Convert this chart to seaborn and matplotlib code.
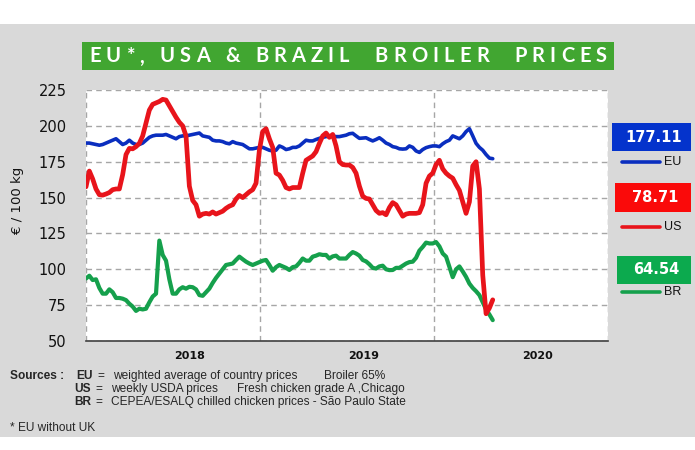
import numpy as np
import pandas as pd
import matplotlib
matplotlib.use("Agg")
import matplotlib.pyplot as plt
import seaborn as sns
from matplotlib import font_manager as fm
from matplotlib.patches import Rectangle
from matplotlib.lines import Line2D

# ---------------- data (weekly, from first week of 2018) ----------------
start_date = "2018-01-01"
eu = [188, 188, 187.5, 187, 186.5, 187, 188, 189, 190, 191,
      189, 187, 188, 190, 188, 187, 187, 188, 190, 192,
      193, 193.5, 193.5, 193.5, 194, 193, 192, 191, 192.5, 193,
      193, 193.5,
      194, 194.5, 195, 193, 192.5, 192, 190, 189.5, 189.5, 189,
      188, 187.5, 189, 188, 187.5, 187, 185.5, 184, 184, 184.5,
      185, 185, 184, 183, 182.5, 183, 186, 185, 183.5, 184,
      185,
      185, 186, 188, 190, 189.5, 189.5, 190.5, 191.3, 192, 192.5,
      193, 193, 192.5, 192.5, 193, 193.5, 194.5, 194.8, 193, 191.3,
      191.5, 191.7, 190.5, 189.5, 190.5, 191.7, 190, 188, 187, 185.5,
      185,
      184, 183.8, 184, 186, 185, 182.5, 181.5, 183.5, 184.8, 185.5,
      186, 186, 185.5, 187.5, 189, 190, 193, 192, 191, 193,
      196, 198, 193, 187.8, 185, 183, 180, 177.5, 177.11]
us = [157.5, 168.5, 163, 156, 152, 151.7, 152.5, 153.5, 155.5, 156,
      156, 166, 180, 184.3, 184, 185.5, 187.8, 193, 202, 211,
      215, 216, 217, 218.5, 218, 214, 210, 206, 202.5, 200,
      193, 158,
      148, 145, 137, 138.5, 139, 138.5, 140, 138.5, 139.5, 140.5,
      142.5, 144, 145, 149, 151.5, 150, 152, 154, 155.5, 160,
      183, 196, 198, 191, 185, 167, 165.7, 162, 157, 156,
      157,
      157, 157, 167, 176, 177.5, 179, 182, 187.8, 193, 195,
      192, 194, 186, 175, 173, 172.7, 172.7, 171, 167, 158,
      151, 149.4, 149, 145, 141, 139, 139.5, 138, 143, 146.5,
      145,
      141, 137, 138.5, 139, 139, 139, 139.5, 145, 160, 165,
      167, 173, 176, 170, 167, 165, 163.5, 159, 155, 147,
      139, 147, 172, 175, 156, 96, 69, 73, 78.71]
br = [93.6, 95.5, 92.5, 93, 87, 83, 83, 86, 84, 80,
      80, 79.5, 78.5, 76, 74, 71, 72.5, 72, 72.5, 77,
      81, 83, 120, 110, 106, 93, 83, 83, 86, 87.5,
      86.5, 87.8,
      87.5, 86, 82, 81.5, 84, 86.5, 90.5, 94, 97, 100,
      103, 103.5, 104, 106.5, 108.8, 107, 105.3, 104, 103, 104,
      105, 106, 106.5, 103, 99, 101.5, 103, 102, 101, 99.5,
      101.5,
      102, 104.5, 107.5, 106, 106, 108.8, 109.5, 110.5, 110, 110,
      107.5, 109, 109.5, 107.5, 107.5, 107.5, 110, 112, 111, 109.5,
      106.5, 105.5, 103.5, 101, 100.5, 102, 102.5, 100, 99.4, 99.5,
      101,
      101, 102.5, 104, 105, 105.3, 108, 113, 115.6, 118.6, 118,
      118, 119, 116, 111, 108.8, 101.7, 94.5, 100, 102, 98.5,
      94.7, 90, 87, 84.7, 82, 77, 72, 68.5, 64.54]
series_names = ["EU", "US", "BR"]
years = ["2018", "2019", "2020"]
yticks = [50, 75, 100, 125, 150, 175, 200, 225]

dates = pd.date_range(start_date, periods=len(eu), freq="7D")
df = pd.DataFrame({"date": np.concatenate([dates, dates, dates]),
                   "value": eu + us + br,
                   "series": ["EU"] * len(eu) + ["US"] * len(us) + ["BR"] * len(br)})

# ---------------- style ----------------
sns.set_theme(style="white")
avail = {f.name for f in fm.fontManager.ttflist}
narrow = "Liberation Sans Narrow" if "Liberation Sans Narrow" in avail else "Liberation Sans"
title_font = "Lato" if "Lato" in avail else "DejaVu Sans"
plt.rcParams["font.family"] = ["DejaVu Sans"]

W, H = 695, 450
fig = plt.figure(figsize=(W / 100, H / 100), dpi=100)
fig.patch.set_facecolor("white")

def fx(px):
    return px / W

def fy(py):
    return 1 - py / H

# gray panel
fig.patches.append(Rectangle((0, fy(437)), 1, (437 - 24) / H, transform=fig.transFigure,
                             facecolor="#d9d9d9", edgecolor="none", zorder=-10))

ax = fig.add_axes([fx(86), fy(341), (608 - 86) / W, (341 - 90) / H])
ax.set_facecolor("white")

colors = {"EU": "#0a2ebf", "US": "#e8141b", "BR": "#15a04c"}
widths = {"EU": 2.6, "US": 3.4, "BR": 3.0}
for name in series_names:
    sub = df[df["series"] == name]
    sns.lineplot(data=sub, x="date", y="value", color=colors[name], lw=widths[name],
                 ax=ax, legend=False, zorder=3 if name != "US" else 4,
                 solid_capstyle="round", solid_joinstyle="round")

ax.set_ylim(50, 225)
ax.set_xlim(pd.Timestamp("2018-01-01"), pd.Timestamp("2021-01-01"))
ax.set_yticks(yticks)
ax.set_yticklabels([str(v) for v in yticks], fontsize=10.5, color="#111111")
ax.tick_params(axis="y", length=0, pad=14)

year_bounds = [pd.Timestamp(f"{y}-01-01") for y in [2018, 2019, 2020, 2021]]
ax.set_xticks(year_bounds)
ax.set_xticklabels([])
ax.tick_params(axis="x", which="major", direction="inout", length=7, width=1.1, color="#404040")
label_pos = [pd.Timestamp(f"{y}-08-07") for y in years]
ax.set_xticks(label_pos, minor=True)
ax.set_xticklabels(years, minor=True, fontsize=8, fontweight="bold", color="#111111")
ax.tick_params(axis="x", which="minor", length=0, pad=7)

ax.grid(True, which="major", axis="both", linestyle=(0, (4, 3)), color="#a6a6a6", lw=1.0)
ax.set_axisbelow(True)
for s in ["left", "right", "top"]:
    ax.spines[s].set_visible(False)
ax.spines["bottom"].set_color("#404040")
ax.spines["bottom"].set_linewidth(1.2)
ax.set_xlabel("")
ax.set_ylabel("")

fig.text(fx(18), fy(200), "€ / 100 kg", rotation=90, ha="center", va="center",
         fontsize=9.5, color="#111111")

# ---------------- title banner ----------------
fig.patches.append(Rectangle((fx(82), fy(70)), (614 - 82) / W, 28 / H, transform=fig.transFigure,
                             facecolor="#41a631", edgecolor="none", zorder=1))
title = "EU*, USA & BRAZIL  BROILER  PRICES"
renderer = fig.canvas.get_renderer()
tfs = 14.5
objs = []
wpx = []
for c in title:
    t = fig.text(0, fy(56.5), c if c != " " else "", fontsize=tfs, fontweight="bold",
                 family=[title_font, "DejaVu Sans"], color="white", ha="left", va="center", zorder=2)
    objs.append(t)
    if c == " ":
        wpx.append(tfs * 0.25 * 100 / 72)
    else:
        wpx.append(t.get_window_extent(renderer).width)
track = (607 - 89 - sum(wpx)) / (len(title) - 1)
x = 89.0
for t, w in zip(objs, wpx):
    t.set_x(fx(x))
    x += w + track

# ---------------- right-hand value boxes / legend ----------------
boxes = [("EU", eu[-1], "#0433cc", 123, 151, 612),
         ("US", us[-1], "#fa0a0a", 183, 212, 615),
         ("BR", br[-1], "#0caa4e", 256, 284, 617)]
leg_y = {"EU": 162, "US": 227, "BR": 292}
for name, val, col, y0, y1, x0 in boxes:
    fig.patches.append(Rectangle((fx(x0), fy(y1)), (691 - x0) / W, (y1 - y0) / H,
                                 transform=fig.transFigure, facecolor=col, edgecolor="none"))
    fig.text(fx((x0 + 691) / 2 + 2), fy((y0 + y1) / 2), f"{val:.2f}", color="white",
             fontsize=10.5, fontweight="bold", ha="center", va="center")
    ly = leg_y[name]
    fig.add_artist(Line2D([fx(622), fx(660)], [fy(ly), fy(ly)], transform=fig.transFigure,
                          color=colors[name], lw=2.6, solid_capstyle="round"))
    fig.text(fx(664), fy(ly), name, fontsize=9, ha="left", va="center", color="#111111",
             family=["Liberation Sans", "DejaVu Sans"])

# ---------------- sources ----------------
nf = [narrow, "DejaVu Sans"]
sfs = 10 if narrow == "Liberation Sans Narrow" else 8.6
fig.text(fx(10), fy(376), "Sources :", fontsize=sfs, fontweight="bold", family=nf, va="center")
rows = [("EU", 376, 76, 97, [("weighted average of country prices", 113), ("Broiler 65%", 324)]),
        ("US", 389, 74.5, 95, [("weekly USDA prices", 111), ("Fresh chicken grade A ,Chicago", 237)]),
        ("BR", 402, 74.5, 95, [("CEPEA/ESALQ chilled chicken prices - São Paulo State", 111)])]
for code, yy, xc, xe, parts in rows:
    fig.text(fx(xc), fy(yy), code, fontsize=sfs, fontweight="bold", family=nf, va="center")
    fig.text(fx(xe), fy(yy), "=", fontsize=sfs, family=nf, va="center")
    for txt, xp in parts:
        fig.text(fx(xp), fy(yy), txt, fontsize=sfs, family=nf, va="center")
fig.text(fx(10), fy(428), "* EU without UK", fontsize=sfs, family=nf, va="center")

fig.savefig("out.png", dpi=100, facecolor=fig.get_facecolor())
